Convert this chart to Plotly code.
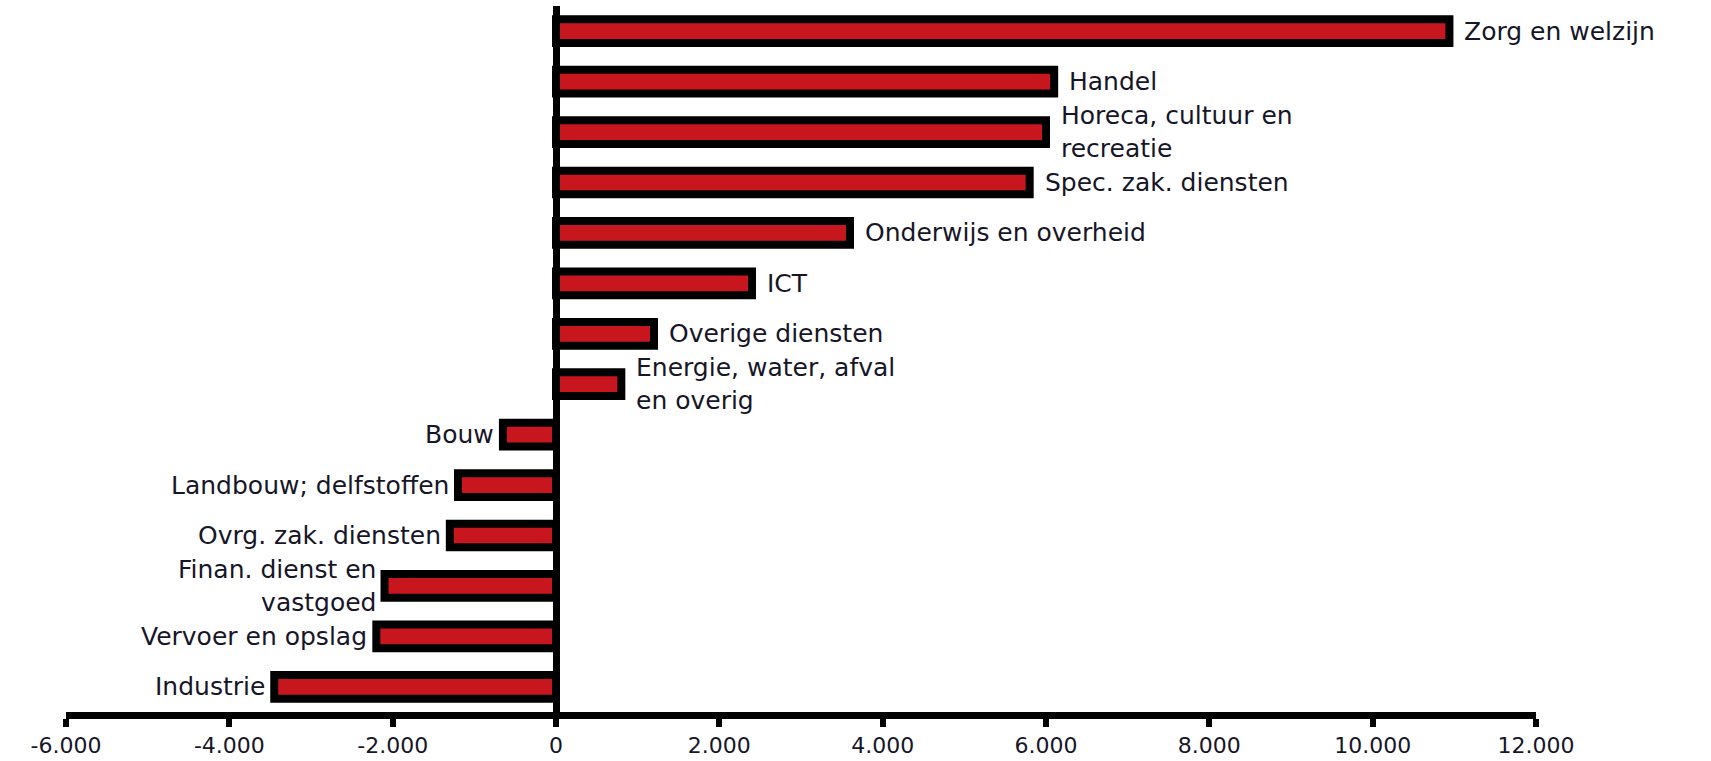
import plotly.graph_objects as go

# Sectors, top to bottom, and the change in jobs per sector
sectors = [
    "Zorg en welzijn",
    "Handel",
    "Horeca, cultuur en<br>recreatie",
    "Spec. zak. diensten",
    "Onderwijs en overheid",
    "ICT",
    "Overige diensten",
    "Energie, water, afval<br>en overig",
    "Bouw",
    "Landbouw; delfstoffen",
    "Ovrg. zak. diensten",
    "Finan. dienst en<br>vastgoed",
    "Vervoer en opslag",
    "Industrie",
]
values = [10940, 6100, 6000, 5800, 3600, 2400, 1200, 800,
          -650, -1200, -1300, -2100, -2200, -3450]

tick_values = [-6000, -4000, -2000, 0, 2000, 4000, 6000, 8000, 10000, 12000]
tick_labels = ["-6.000", "-4.000", "-2.000", "0", "2.000", "4.000",
               "6.000", "8.000", "10.000", "12.000"]

RED = "#C8161F"
INK = "#161628"
LABEL_FONT = dict(family="DejaVu Sans, sans-serif", size=25, color=INK)

fig = go.Figure(
    go.Bar(
        x=values,
        y=sectors,
        orientation="h",
        marker=dict(color=RED, line=dict(color="black", width=8)),
        hoverinfo="x+y",
    )
)

# Sector names sit just beyond the end of each bar
for name, v in zip(sectors, values):
    fig.add_annotation(
        x=v, y=name, text=name, showarrow=False,
        xanchor="left" if v >= 0 else "right",
        yanchor="middle",
        align="left" if v >= 0 else "right",
        xshift=13 if v >= 0 else -7,
        font=LABEL_FONT,
    )

fig.update_layout(
    width=1711, height=761,
    margin=dict(l=66, r=175, t=6, b=49),
    paper_bgcolor="white", plot_bgcolor="white",
    bargap=0.53,
    showlegend=False,
    xaxis=dict(
        range=[-6000, 12000],
        tickvals=tick_values, ticktext=tick_labels,
        showgrid=False,
        showline=True, linecolor="black", linewidth=7,
        ticks="outside", ticklen=8, tickwidth=6, tickcolor="black",
        zeroline=True, zerolinecolor="black", zerolinewidth=7,
        tickfont=dict(family="DejaVu Sans, sans-serif", size=22, color=INK),
        automargin=False,
        fixedrange=True,
    ),
    yaxis=dict(
        categoryorder="array", categoryarray=sectors,
        autorange="reversed",
        showticklabels=False, showgrid=False, zeroline=False,
        showline=False, ticks="",
        automargin=False,
        fixedrange=True,
    ),
)

fig.write_html("out.html")
